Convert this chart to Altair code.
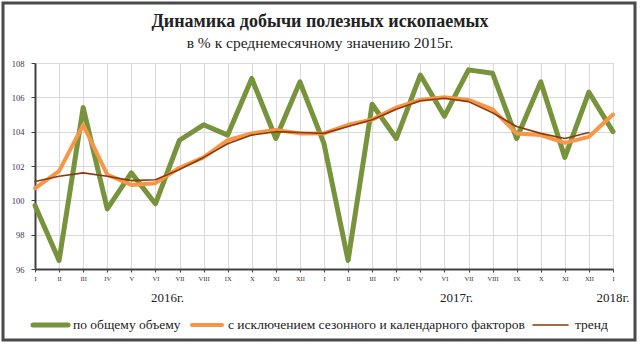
import altair as alt
import pandas as pd

months = ["I", "II", "III", "IV", "V", "VI", "VII", "VIII", "IX", "X", "XI", "XII",
          "I", "II", "III", "IV", "V", "VI", "VII", "VIII", "IX", "X", "XI", "XII", "I"]
total = [99.7, 96.5, 105.4, 99.5, 101.6, 99.8, 103.5, 104.4, 103.8, 107.1, 103.6, 106.9,
         103.3, 96.5, 105.6, 103.6, 107.3, 104.9, 107.6, 107.4, 103.6, 106.9, 102.5, 106.3, 104.0]
adjusted = [100.7, 101.7, 104.4, 101.5, 100.9, 101.0, 101.9, 102.5, 103.5, 103.9, 104.1, 103.9,
            103.9, 104.4, 104.7, 105.4, 105.85, 106.0, 105.85, 105.3, 103.9, 103.8, 103.35, 103.7, 105.0]
trend = [101.1, 101.4, 101.6, 101.4, 101.15, 101.2, 101.8, 102.5, 103.3, 103.8, 104.0, 103.95,
         103.9, 104.3, 104.7, 105.3, 105.8, 105.95, 105.75, 105.1, 104.3, 103.9, 103.6, 103.95, None]
years = ["2016г.", "2017г.", "2018г."]
year_pos = [5.5, 17.5, 24]

series_names = ["по общему объему",
                "с исключением  сезонного и календарного факторов",
                "тренд"]

# styles
colors = ["#77933C", "#F79646", "#8B3A0E"]
widths = [5, 4, 1.6]
legend_swatch_x = [(-2, 33), (157, 187), (498, 533)]
legend_label_x = [38, 193, 540]
LEGEND_Y = 262
FONT = "Liberation Serif"

rows = []
for name, vals in zip(series_names, [total, adjusted, trend]):
    for i, v in enumerate(vals):
        if v is not None:
            rows.append({"i": i, "value": v, "series": name})
df = pd.DataFrame(rows)
df_years = pd.DataFrame({"i": year_pos, "label": years})

label_expr = "[" + ",".join(f"'{m}'" for m in months) + "][datum.value]"

x_scale = alt.Scale(domain=[0, 24], nice=False, zero=False)
x_axis = alt.Axis(values=list(range(25)), labelExpr=label_expr, title=None,
                  grid=True, gridColor="#d9d9d9", gridWidth=1,
                  domainColor="#404040", domainWidth=2,
                  tickColor="#404040", tickSize=3,
                  labelOverlap=False, labelBound=False, labelFlush=False,
                  labelSeparation=0,
                  labelFont=FONT, labelFontSize=6.5, labelColor="#333333",
                  labelPadding=3)
x_enc = alt.X("i:Q", scale=x_scale, axis=x_axis)
y_enc = alt.Y("value:Q",
              scale=alt.Scale(domain=[96, 108], nice=False, zero=False),
              axis=alt.Axis(values=[96, 98, 100, 102, 104, 106, 108], title=None,
                            grid=True, gridColor="#d9d9d9", gridWidth=1,
                            domainColor="#404040", domainWidth=2,
                            tickColor="#404040", tickSize=4,
                            labelFont=FONT, labelFontSize=8.5, labelColor="#403050",
                            labelPadding=7))

base = alt.Chart(df)
layers = []
for name, c, w in zip(series_names, colors, widths):
    layers.append(
        base.transform_filter(alt.datum.series == name)
        .mark_line(strokeJoin="round", strokeCap="round", color=c, strokeWidth=w)
        .encode(x=x_enc, y=y_enc)
    )

legend_layers = []
for name, c, w, (x0, x1), lx in zip(series_names, colors, widths, legend_swatch_x, legend_label_x):
    ldf = pd.DataFrame({"series": [name]})
    legend_layers.append(
        alt.Chart(ldf).mark_rule(color=c, strokeWidth=w, strokeCap="round", clip=False).encode(
            x=alt.value(x0), x2=alt.value(x1), y=alt.value(LEGEND_Y))
    )
    legend_layers.append(
        alt.Chart(ldf).mark_text(font=FONT, fontSize=13.5, color="#222222", align="left",
                                 baseline="middle", clip=False).encode(
            x=alt.value(lx), y=alt.value(LEGEND_Y), text="series:N")
    )

year_text = alt.Chart(df_years).mark_text(font=FONT, fontSize=13, color="#222222",
                                          baseline="middle").encode(
    x=x_enc, y=alt.value(235), text="label:N")

title_text = alt.Chart(pd.DataFrame({"t": ["Динамика добычи полезных ископаемых"]})).mark_text(
    font=FONT, fontSize=18, fontWeight="bold", color="#222222", baseline="middle").encode(
    x=alt.value(285), y=alt.value(-41), text="t:N")
sub_text = alt.Chart(pd.DataFrame({"t": ["в % к среднемесячному значению 2015г."]})).mark_text(
    font=FONT, fontSize=15.5, color="#222222", baseline="middle").encode(
    x=alt.value(285), y=alt.value(-20), text="t:N")

frame = alt.Chart(pd.DataFrame({"a": [0]})).mark_rect(
    filled=False, stroke="#4a4a4a", strokeWidth=3, clip=False).encode(
    x=alt.value(-32), x2=alt.value(600), y=alt.value(-60), y2=alt.value(277))

chart = alt.layer(*layers, year_text, title_text, sub_text, *legend_layers, frame).properties(
    width=578, height=206,
    autosize=alt.AutoSizeParams(type="none"),
    padding={"left": 35, "top": 63, "right": 27, "bottom": 76},
    background="white",
).configure_view(stroke="#bfbfbf", strokeWidth=1)

chart.save("out.html", embed_options={"renderer": "svg", "actions": False})
